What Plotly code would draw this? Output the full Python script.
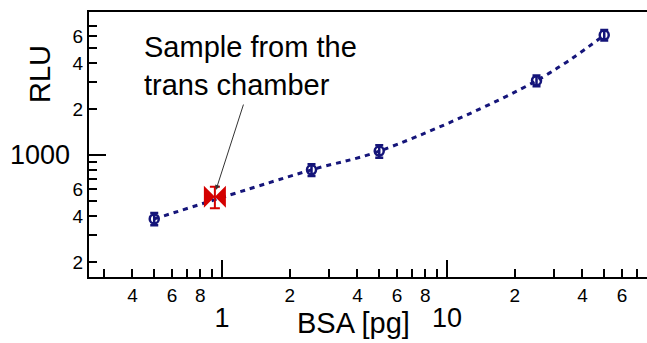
import math
import plotly.graph_objects as go

# ---- data ----
bsa_pg = [0.5, 2.5, 5, 25, 50]
rlu = [382, 800, 1060, 3060, 6080]
rlu_err = [35, 70, 100, 250, 480]

sample_bsa = [0.93]
sample_rlu = [534]
sample_err = [85]

x_minor_vals = [0.3, 0.4, 0.5, 0.6, 0.7, 0.8, 0.9,
                2, 3, 4, 5, 6, 7, 8, 9,
                20, 30, 40, 50, 60, 70]
x_minor_text = ["", "4", "", "6", "", "8", "",
                "2", "", "4", "", "6", "", "8", "",
                "2", "", "4", "", "6", ""]
x_major_vals = [1, 10]
x_major_text = ["1", "10"]

y_minor_vals = [200, 300, 400, 500, 600, 700, 800, 900,
                2000, 3000, 4000, 5000, 6000, 7000]
y_minor_text = ["2", "", "4", "", "6", "", "", "",
                "2", "", "4", "", "6", ""]
y_major_vals = [1000]
y_major_text = ["1000"]

navy = "#15157a"
red = "#d40000"
FONT = "Liberation Sans, Arial, sans-serif"

xr = [-0.591, 1.889]
yr = [2.2026, 3.9346]

fig = go.Figure()
fig.add_trace(go.Scatter(
    x=bsa_pg, y=rlu, mode="lines+markers",
    line=dict(color=navy, width=3, dash="5px,5px", shape="spline"),
    marker=dict(symbol="circle-open", size=9, color=navy, line=dict(width=2.5, color=navy)),
    error_y=dict(type="data", array=rlu_err, color=navy, thickness=2.5, width=4),
    showlegend=False,
))
fig.add_trace(go.Scatter(
    x=sample_bsa, y=sample_rlu, mode="markers", xaxis="x2", yaxis="y2",
    marker=dict(symbol="bowtie", size=22, color=red, line=dict(width=0)),
    error_y=dict(type="data", array=sample_err, color=red, thickness=2, width=5),
    showlegend=False,
))

axis_common = dict(type="log", showgrid=False, zeroline=False, ticks="inside",
                   tickwidth=2, tickcolor="black")

fig.update_layout(
    width=647, height=343,
    margin=dict(l=89, r=0, t=12, b=66),
    paper_bgcolor="white", plot_bgcolor="white",
    xaxis=dict(**axis_common, range=xr, tickmode="array", tickvals=x_minor_vals,
               ticktext=x_minor_text, ticklen=8, showline=True, linewidth=2,
               linecolor="black", mirror=True,
               tickfont=dict(family=FONT, size=19, color="black"), ticklabelstandoff=0),
    yaxis=dict(**axis_common, range=yr, tickmode="array", tickvals=y_minor_vals,
               ticktext=y_minor_text, ticklen=8, showline=True, linewidth=2,
               linecolor="black",
               tickfont=dict(family=FONT, size=19, color="black"), ticklabelstandoff=0),
    xaxis2=dict(**axis_common, range=xr, overlaying="x", anchor="y2", side="bottom",
                tickmode="array", tickvals=x_major_vals, ticktext=x_major_text,
                ticklen=17, showline=False,
                tickfont=dict(family=FONT, size=27, color="black"), ticklabelstandoff=22),
    yaxis2=dict(**axis_common, range=yr, overlaying="y", anchor="x2", side="left",
                tickmode="array", tickvals=y_major_vals, ticktext=y_major_text,
                ticklen=17, showline=False,
                tickfont=dict(family=FONT, size=27, color="black"), ticklabelstandoff=18),
    annotations=[
        dict(text="BSA [pg]", xref="paper", yref="paper", x=(353 - 89) / 558, y=-(323 - 277) / 265,
             xanchor="center", yanchor="middle", showarrow=False,
             font=dict(family=FONT, size=29, color="black")),
        dict(text="RLU", xref="paper", yref="paper", x=-(89 - 40) / 558, y=1 - (74 - 12) / 265,
             xanchor="center", yanchor="middle", textangle=-90, showarrow=False,
             font=dict(family=FONT, size=29, color="black")),
        dict(text="Sample from the<br>trans chamber", xref="paper", yref="paper",
             x=(142 - 89) / 558, y=1 - (66 - 12) / 265, xanchor="left", yanchor="middle",
             align="left", showarrow=False,
             font=dict(family=FONT, size=29, color="black")),
        dict(text="", xref="x", yref="y", x=math.log10(0.94), y=math.log10(590),
             ax=28, ay=-87, showarrow=True, arrowhead=2, arrowsize=1, arrowwidth=1,
             arrowcolor="#333333"),
    ],
)

fig.write_html("out.html", config={"displayModeBar": False},
               post_script="document.body.style.margin='0';")
